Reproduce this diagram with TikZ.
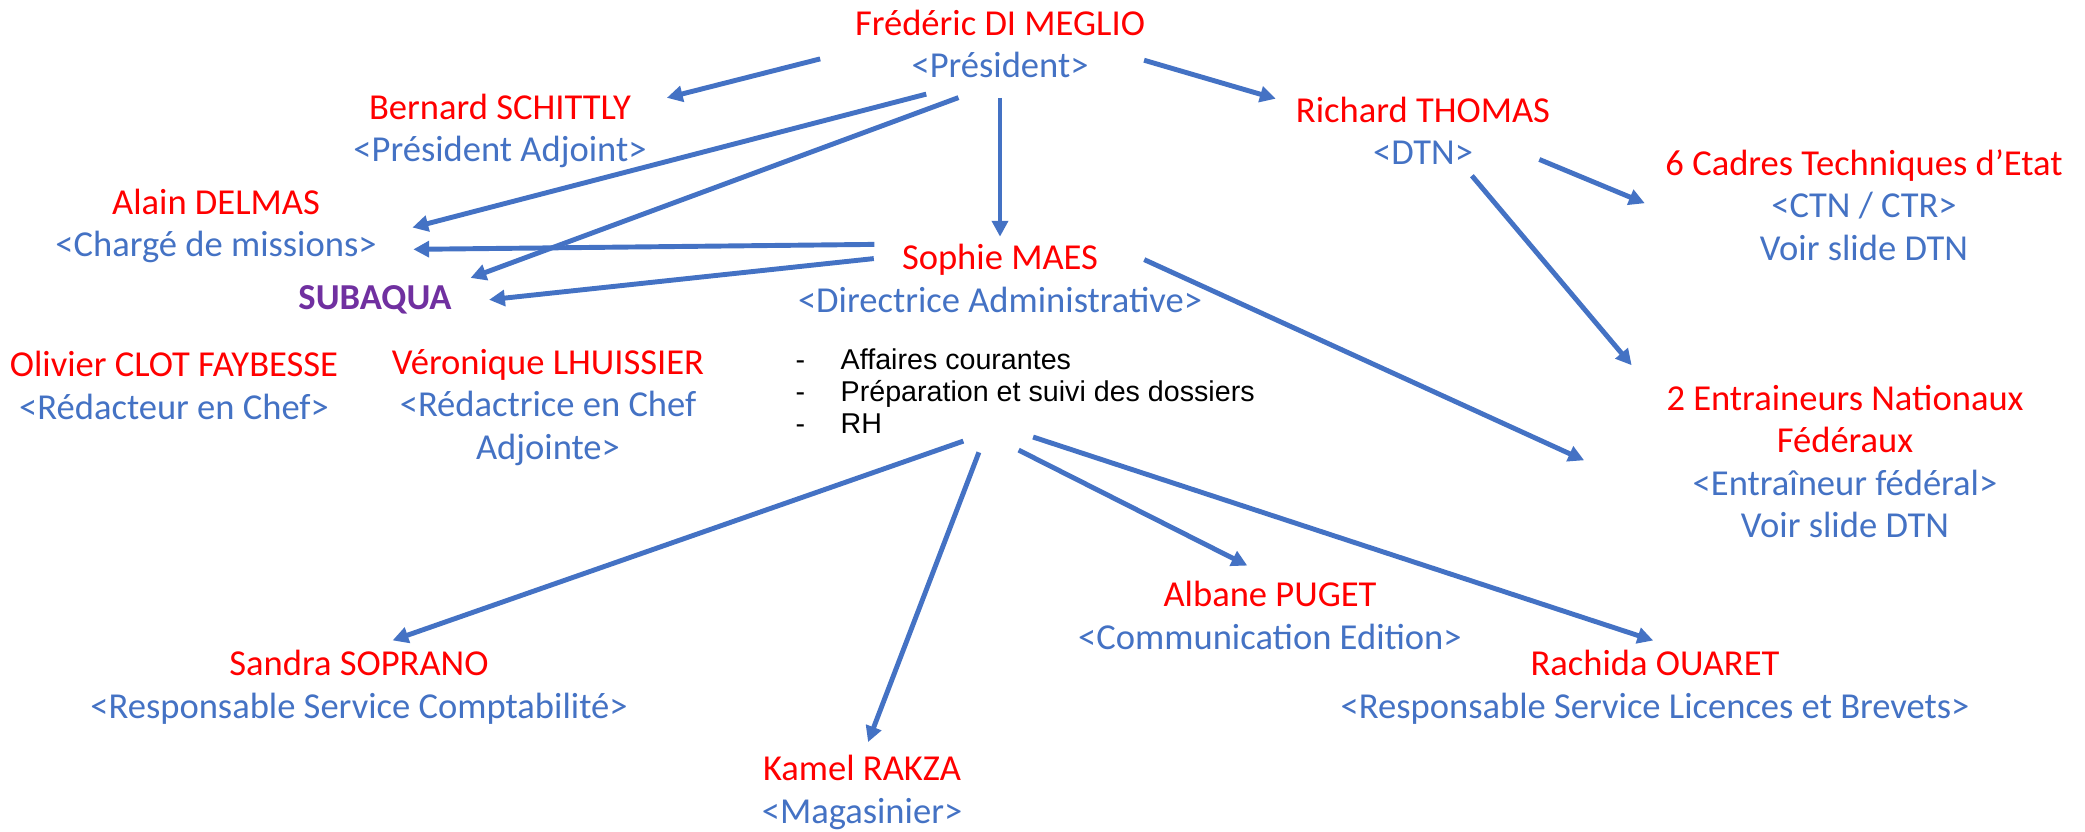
\documentclass[tikz,border=0pt]{standalone}
\usepackage{fontspec}
\setmainfont{Carlito}
\newfontfamily\arialfont{Liberation Sans}
\usetikzlibrary{arrows.meta}
\definecolor{namered}{HTML}{FF0000}
\definecolor{roleblue}{HTML}{4472C4}
\definecolor{subpurple}{HTML}{7030A0}
\newcommand{\who}[1]{\textcolor{namered}{#1}}
\tikzset{
    person/.style={align=center,text=roleblue,inner sep=2pt,font=\fontsize{10.4}{12.1}\selectfont},
    tasks/.style={align=left,inner sep=2pt,font=\arialfont\fontsize{8.15}{9.1}\selectfont},
    link/.style={roleblue,line width=1.4pt,-{Triangle[length=4.5pt,width=4.5pt]}}
}

\begin{document}
\begin{tikzpicture}
    \useasboundingbox (0,0) rectangle (20.85,-8.31);
    % top
    \node [person] (pres) at (10,-0.44) {\who{Frédéric DI MEGLIO}\\<Président>};
    \node [person] (bernard) at (5,-1.31) {\who{Bernard SCHITTLY}\\<Président Adjoint>};
    \node [person] (richard) at (14.23,-1.31) {\who{Richard THOMAS}\\<DTN>};
    \node [person] (cadres) at (18.64,-2.05) {\who{6 Cadres Techniques d’Etat}\\<CTN / CTR>\\Voir slide DTN};
    % left side
    \node [person] (alain) at (2.16,-2.26) {\who{Alain DELMAS}\\<Chargé de missions>};
    \node [person,text=subpurple,font=\fontsize{10.4}{12.1}\selectfont\bfseries] (subaqua) at (3.75,-3) {SUBAQUA};
    \node [person] (olivier) at (1.74,-3.855) {\who{Olivier CLOT FAYBESSE}\\<Rédacteur en Chef>};
    \node [person] (veronique) at (5.48,-4.075) {\who{Véronique LHUISSIER}\\<Rédactrice en Chef\\Adjointe>};
    % middle
    \node [person] (sophie) at (10,-2.785) {\who{Sophie MAES}\\<Directrice Administrative>};
    \node [tasks,anchor=west] (taches) at (7.88,-3.91) {\makebox[0.45cm][l]{-}Affaires courantes\\
        \makebox[0.45cm][l]{-}Préparation et suivi des dossiers\\
        \makebox[0.45cm][l]{-}RH};
    \node [person] (entr) at (18.45,-4.615) {\who{2 Entraineurs Nationaux}\\\who{Fédéraux}\\<Entraîneur fédéral>\\Voir slide DTN};
    % bottom
    \node [person] (albane) at (12.7,-6.155) {\who{Albane PUGET}\\<Communication Edition>};
    \node [person] (sandra) at (3.59,-6.87) {\who{Sandra SOPRANO}\\<Responsable Service Comptabilité>};
    \node [person] (rachida) at (16.55,-6.87) {\who{Rachida OUARET}\\<Responsable Service Licences et Brevets>};
    \node [person] (kamel) at (8.62,-7.925) {\who{Kamel RAKZA}\\<Magasinier>};
    % links
    \draw [link,shorten <=0.28cm,shorten >=0.13cm] (pres.183) -- (bernard.11);
    \draw [link,shorten <=0.33cm,shorten >=0.29cm] (pres.225) -- (alain.-3);
    \draw [link,shorten <=0.34cm,shorten >=0.12cm] (pres.257) -- (subaqua.12);
    \draw [link,shorten <=0.12cm] (pres.south) -- (sophie.north);
    \draw [link,shorten <=-0.84cm,shorten >=0.29cm] (sophie.171) -- (alain.-8);
    \draw [link,shorten <=-0.84cm,shorten >=0.3cm] (sophie.177) -- (subaqua.-2);
    \draw [link,shorten <=-0.09cm,shorten >=0.13cm] (pres.-7) -- (richard.168);
    \draw [link,shorten <=-0.2cm,shorten >=0.14cm] (richard.-15) -- (cadres.181);
    \draw [link,shorten <=0.04cm,shorten >=0.42cm] (richard.-42) -- (entr.161);
    \draw [link,shorten <=-0.72cm,shorten >=0.82cm] (sophie.-3) -- (entr.190);
    \draw [link,shorten >=0.06cm] (taches.219) -- (sandra.58);
    \draw [link,shorten <=0.12cm,shorten >=0.06cm] (taches.230) -- (kamel.85);
    \draw [link,shorten <=0.2cm,shorten >=0.18cm] (taches.244) -- (albane.99);
    \draw [link,shorten <=-0.13cm,shorten >=0.06cm] (taches.-68) -- (rachida.85);
\end{tikzpicture}
\end{document}
